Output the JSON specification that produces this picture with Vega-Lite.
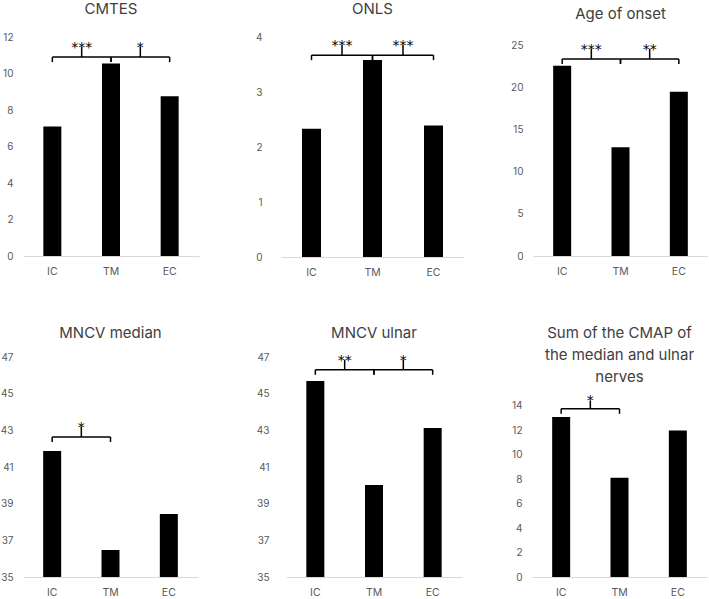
{
  "$schema": "https://vega.github.io/schema/vega-lite/v6.json",
  "padding": {"left": 0, "top": 2, "right": 0, "bottom": 0},
  "background": "white",
  "datasets": {
    "bars": [
      {"panel": "CMTES", "group": "IC", "value": 7.1},
      {"panel": "CMTES", "group": "TM", "value": 10.55},
      {"panel": "CMTES", "group": "EC", "value": 8.75},
      {"panel": "ONLS", "group": "IC", "value": 2.33},
      {"panel": "ONLS", "group": "TM", "value": 3.58},
      {"panel": "ONLS", "group": "EC", "value": 2.39},
      {"panel": "Age", "group": "IC", "value": 22.6},
      {"panel": "Age", "group": "TM", "value": 12.9},
      {"panel": "Age", "group": "EC", "value": 19.5},
      {"panel": "Median", "group": "IC", "value": 41.87},
      {"panel": "Median", "group": "TM", "value": 36.47},
      {"panel": "Median", "group": "EC", "value": 38.44},
      {"panel": "Ulnar", "group": "IC", "value": 45.69},
      {"panel": "Ulnar", "group": "TM", "value": 40.02},
      {"panel": "Ulnar", "group": "EC", "value": 43.13},
      {"panel": "CMAP", "group": "IC", "value": 13.1},
      {"panel": "CMAP", "group": "TM", "value": 8.13},
      {"panel": "CMAP", "group": "EC", "value": 11.99}
    ],
    "brackets": [
      {"panel": "CMTES", "c1": "IC", "c2": "TM", "level": 10.9, "stars": "***"},
      {"panel": "CMTES", "c1": "TM", "c2": "EC", "level": 10.9, "stars": "*"},
      {"panel": "ONLS", "c1": "IC", "c2": "TM", "level": 3.67, "stars": "***"},
      {"panel": "ONLS", "c1": "TM", "c2": "EC", "level": 3.67, "stars": "***"},
      {"panel": "Age", "c1": "IC", "c2": "TM", "level": 23.4, "stars": "***"},
      {"panel": "Age", "c1": "TM", "c2": "EC", "level": 23.4, "stars": "**"},
      {"panel": "Median", "c1": "IC", "c2": "TM", "level": 42.64, "stars": "*"},
      {"panel": "Ulnar", "c1": "IC", "c2": "TM", "level": 46.3, "stars": "**"},
      {"panel": "Ulnar", "c1": "TM", "c2": "EC", "level": 46.3, "stars": "*"},
      {"panel": "CMAP", "c1": "IC", "c2": "TM", "level": 13.76, "stars": "*"}
    ]
  },
  "spacing": 48,
  "vconcat": [
    {
      "concat": [
        {
          "concat": [
            {
              "title": "CMTES",
              "width": 176, "height": 219,
              "layer": [
                {"data": {"name": "bars"}, "transform": [{"filter": "datum.panel === 'CMTES'"}],
                 "mark": {"type": "bar", "width": 18, "color": "#000000"},
                 "encoding": {
                   "x": {"field": "group", "type": "nominal", "scale": {"domain": ["IC", "TM", "EC"], "paddingInner": 0, "paddingOuter": 0}},
                   "y": {"field": "value", "type": "quantitative", "scale": {"domain": [0, 12]}, "axis": {"values": [0, 2, 4, 6, 8, 10, 12], "tickCount": 20, "format": "d"}}
                 }},
                {"data": {"name": "brackets"}, "transform": [{"filter": "datum.panel === 'CMTES'"}],
                 "mark": {"type": "rule", "color": "#000000", "strokeWidth": 1.5},
                 "encoding": {"x": {"field": "c1", "type": "nominal"}, "x2": {"field": "c2"}, "y": {"field": "level", "type": "quantitative"}}},
                {"data": {"name": "brackets"}, "transform": [{"filter": "datum.panel === 'CMTES'"}],
                 "mark": {"type": "rule", "color": "#000000", "strokeWidth": 1.5, "y2Offset": 5},
                 "encoding": {"x": {"field": "c1", "type": "nominal"}, "y": {"field": "level", "type": "quantitative"}, "y2": {"field": "level"}}},
                {"data": {"name": "brackets"}, "transform": [{"filter": "datum.panel === 'CMTES'"}],
                 "mark": {"type": "rule", "color": "#000000", "strokeWidth": 1.5, "y2Offset": 5},
                 "encoding": {"x": {"field": "c2", "type": "nominal"}, "y": {"field": "level", "type": "quantitative"}, "y2": {"field": "level"}}},
                {"data": {"name": "brackets"}, "transform": [{"filter": "datum.panel === 'CMTES'"}],
                 "mark": {"type": "rule", "color": "#000000", "strokeWidth": 1.5, "y2Offset": -10},
                 "encoding": {"x": {"field": "c1", "type": "nominal", "bandPosition": 1}, "y": {"field": "level", "type": "quantitative"}, "y2": {"field": "level"}}},
                {"data": {"name": "brackets"}, "transform": [{"filter": "datum.panel === 'CMTES'"}],
                 "mark": {"type": "text", "color": "#000000", "font": "DejaVu Sans", "fontSize": 14, "dy": -9, "baseline": "middle"},
                 "encoding": {"x": {"field": "c1", "type": "nominal", "bandPosition": 1}, "y": {"field": "level", "type": "quantitative"}, "text": {"field": "stars"}}}
              ]
            },
            {
              "title": "ONLS",
              "width": 183, "height": 220,
              "layer": [
                {"data": {"name": "bars"}, "transform": [{"filter": "datum.panel === 'ONLS'"}],
                 "mark": {"type": "bar", "width": 19, "color": "#000000"},
                 "encoding": {
                   "x": {"field": "group", "type": "nominal", "scale": {"domain": ["IC", "TM", "EC"], "paddingInner": 0, "paddingOuter": 0}},
                   "y": {"field": "value", "type": "quantitative", "scale": {"domain": [0, 4]}, "axis": {"values": [0, 1, 2, 3, 4], "tickCount": 20, "format": "d", "labelPadding": 19}}
                 }},
                {"data": {"name": "brackets"}, "transform": [{"filter": "datum.panel === 'ONLS'"}],
                 "mark": {"type": "rule", "color": "#000000", "strokeWidth": 1.5},
                 "encoding": {"x": {"field": "c1", "type": "nominal"}, "x2": {"field": "c2"}, "y": {"field": "level", "type": "quantitative"}}},
                {"data": {"name": "brackets"}, "transform": [{"filter": "datum.panel === 'ONLS'"}],
                 "mark": {"type": "rule", "color": "#000000", "strokeWidth": 1.5, "y2Offset": 5},
                 "encoding": {"x": {"field": "c1", "type": "nominal"}, "y": {"field": "level", "type": "quantitative"}, "y2": {"field": "level"}}},
                {"data": {"name": "brackets"}, "transform": [{"filter": "datum.panel === 'ONLS'"}],
                 "mark": {"type": "rule", "color": "#000000", "strokeWidth": 1.5, "y2Offset": 5},
                 "encoding": {"x": {"field": "c2", "type": "nominal"}, "y": {"field": "level", "type": "quantitative"}, "y2": {"field": "level"}}},
                {"data": {"name": "brackets"}, "transform": [{"filter": "datum.panel === 'ONLS'"}],
                 "mark": {"type": "rule", "color": "#000000", "strokeWidth": 1.5, "y2Offset": -10},
                 "encoding": {"x": {"field": "c1", "type": "nominal", "bandPosition": 1}, "y": {"field": "level", "type": "quantitative"}, "y2": {"field": "level"}}},
                {"data": {"name": "brackets"}, "transform": [{"filter": "datum.panel === 'ONLS'"}],
                 "mark": {"type": "text", "color": "#000000", "font": "DejaVu Sans", "fontSize": 14, "dy": -9, "baseline": "middle"},
                 "encoding": {"x": {"field": "c1", "type": "nominal", "bandPosition": 1}, "y": {"field": "level", "type": "quantitative"}, "text": {"field": "stars"}}}
              ]
            }
          ],
          "columns": 2, "spacing": 56
        },
        {
          "title": "Age of onset",
          "width": 175, "height": 219,
          "layer": [
            {"data": {"name": "bars"}, "transform": [{"filter": "datum.panel === 'Age'"}],
             "mark": {"type": "bar", "width": 18, "color": "#000000"},
             "encoding": {
               "x": {"field": "group", "type": "nominal", "scale": {"domain": ["IC", "TM", "EC"], "paddingInner": 0, "paddingOuter": 0}},
               "y": {"field": "value", "type": "quantitative", "scale": {"domain": [0, 25]}, "axis": {"values": [0, 5, 10, 15, 20, 25], "tickCount": 20, "format": "d"}}
             }},
            {"data": {"name": "brackets"}, "transform": [{"filter": "datum.panel === 'Age'"}],
             "mark": {"type": "rule", "color": "#000000", "strokeWidth": 1.5},
             "encoding": {"x": {"field": "c1", "type": "nominal"}, "x2": {"field": "c2"}, "y": {"field": "level", "type": "quantitative"}}},
            {"data": {"name": "brackets"}, "transform": [{"filter": "datum.panel === 'Age'"}],
             "mark": {"type": "rule", "color": "#000000", "strokeWidth": 1.5, "y2Offset": 5},
             "encoding": {"x": {"field": "c1", "type": "nominal"}, "y": {"field": "level", "type": "quantitative"}, "y2": {"field": "level"}}},
            {"data": {"name": "brackets"}, "transform": [{"filter": "datum.panel === 'Age'"}],
             "mark": {"type": "rule", "color": "#000000", "strokeWidth": 1.5, "y2Offset": 5},
             "encoding": {"x": {"field": "c2", "type": "nominal"}, "y": {"field": "level", "type": "quantitative"}, "y2": {"field": "level"}}},
            {"data": {"name": "brackets"}, "transform": [{"filter": "datum.panel === 'Age'"}],
             "mark": {"type": "rule", "color": "#000000", "strokeWidth": 1.5, "y2Offset": -10},
             "encoding": {"x": {"field": "c1", "type": "nominal", "bandPosition": 1}, "y": {"field": "level", "type": "quantitative"}, "y2": {"field": "level"}}},
            {"data": {"name": "brackets"}, "transform": [{"filter": "datum.panel === 'Age'"}],
             "mark": {"type": "text", "color": "#000000", "font": "DejaVu Sans", "fontSize": 14, "dy": -9, "baseline": "middle"},
             "encoding": {"x": {"field": "c1", "type": "nominal", "bandPosition": 1}, "y": {"field": "level", "type": "quantitative"}, "text": {"field": "stars"}}}
          ]
        }
      ],
      "columns": 2, "spacing": 46
    },
    {
      "concat": [
        {
          "concat": [
            {
              "title": {"text": "MNCV median", "offset": 11},
              "width": 175, "height": 220,
              "layer": [
                {"data": {"name": "bars"}, "transform": [{"filter": "datum.panel === 'Median'"}],
                 "mark": {"type": "bar", "width": 18, "color": "#000000", "clip": true},
                 "encoding": {
                   "x": {"field": "group", "type": "nominal", "scale": {"domain": ["IC", "TM", "EC"], "paddingInner": 0, "paddingOuter": 0}},
                   "y": {"field": "value", "type": "quantitative", "scale": {"domain": [35, 47], "zero": false}, "axis": {"values": [35, 37, 39, 41, 43, 45, 47], "tickCount": 20, "format": "d"}}
                 }},
                {"data": {"name": "brackets"}, "transform": [{"filter": "datum.panel === 'Median'"}],
                 "mark": {"type": "rule", "color": "#000000", "strokeWidth": 1.5},
                 "encoding": {"x": {"field": "c1", "type": "nominal"}, "x2": {"field": "c2"}, "y": {"field": "level", "type": "quantitative"}}},
                {"data": {"name": "brackets"}, "transform": [{"filter": "datum.panel === 'Median'"}],
                 "mark": {"type": "rule", "color": "#000000", "strokeWidth": 1.5, "y2Offset": 5},
                 "encoding": {"x": {"field": "c1", "type": "nominal"}, "y": {"field": "level", "type": "quantitative"}, "y2": {"field": "level"}}},
                {"data": {"name": "brackets"}, "transform": [{"filter": "datum.panel === 'Median'"}],
                 "mark": {"type": "rule", "color": "#000000", "strokeWidth": 1.5, "y2Offset": 5},
                 "encoding": {"x": {"field": "c2", "type": "nominal"}, "y": {"field": "level", "type": "quantitative"}, "y2": {"field": "level"}}},
                {"data": {"name": "brackets"}, "transform": [{"filter": "datum.panel === 'Median'"}],
                 "mark": {"type": "rule", "color": "#000000", "strokeWidth": 1.5, "y2Offset": -10},
                 "encoding": {"x": {"field": "c1", "type": "nominal", "bandPosition": 1}, "y": {"field": "level", "type": "quantitative"}, "y2": {"field": "level"}}},
                {"data": {"name": "brackets"}, "transform": [{"filter": "datum.panel === 'Median'"}],
                 "mark": {"type": "text", "color": "#000000", "font": "DejaVu Sans", "fontSize": 14, "dy": -9, "baseline": "middle"},
                 "encoding": {"x": {"field": "c1", "type": "nominal", "bandPosition": 1}, "y": {"field": "level", "type": "quantitative"}, "text": {"field": "stars"}}}
              ]
            },
            {
              "title": {"text": "MNCV ulnar", "offset": 11},
              "width": 176, "height": 220,
              "layer": [
                {"data": {"name": "bars"}, "transform": [{"filter": "datum.panel === 'Ulnar'"}],
                 "mark": {"type": "bar", "width": 18, "color": "#000000", "clip": true},
                 "encoding": {
                   "x": {"field": "group", "type": "nominal", "scale": {"domain": ["IC", "TM", "EC"], "paddingInner": 0, "paddingOuter": 0}},
                   "y": {"field": "value", "type": "quantitative", "scale": {"domain": [35, 47], "zero": false}, "axis": {"values": [35, 37, 39, 41, 43, 45, 47], "tickCount": 20, "format": "d", "labelPadding": 17}}
                 }},
                {"data": {"name": "brackets"}, "transform": [{"filter": "datum.panel === 'Ulnar'"}],
                 "mark": {"type": "rule", "color": "#000000", "strokeWidth": 1.5},
                 "encoding": {"x": {"field": "c1", "type": "nominal"}, "x2": {"field": "c2"}, "y": {"field": "level", "type": "quantitative"}}},
                {"data": {"name": "brackets"}, "transform": [{"filter": "datum.panel === 'Ulnar'"}],
                 "mark": {"type": "rule", "color": "#000000", "strokeWidth": 1.5, "y2Offset": 5},
                 "encoding": {"x": {"field": "c1", "type": "nominal"}, "y": {"field": "level", "type": "quantitative"}, "y2": {"field": "level"}}},
                {"data": {"name": "brackets"}, "transform": [{"filter": "datum.panel === 'Ulnar'"}],
                 "mark": {"type": "rule", "color": "#000000", "strokeWidth": 1.5, "y2Offset": 5},
                 "encoding": {"x": {"field": "c2", "type": "nominal"}, "y": {"field": "level", "type": "quantitative"}, "y2": {"field": "level"}}},
                {"data": {"name": "brackets"}, "transform": [{"filter": "datum.panel === 'Ulnar'"}],
                 "mark": {"type": "rule", "color": "#000000", "strokeWidth": 1.5, "y2Offset": -10},
                 "encoding": {"x": {"field": "c1", "type": "nominal", "bandPosition": 1}, "y": {"field": "level", "type": "quantitative"}, "y2": {"field": "level"}}},
                {"data": {"name": "brackets"}, "transform": [{"filter": "datum.panel === 'Ulnar'"}],
                 "mark": {"type": "text", "color": "#000000", "font": "DejaVu Sans", "fontSize": 14, "dy": -9, "baseline": "middle"},
                 "encoding": {"x": {"field": "c1", "type": "nominal", "bandPosition": 1}, "y": {"field": "level", "type": "quantitative"}, "text": {"field": "stars"}}}
              ]
            }
          ],
          "columns": 2, "spacing": 58
        },
        {
          "title": {"text": ["Sum of the CMAP of", "the median and ulnar", "nerves"], "lineHeight": 22, "offset": -28},
          "width": 175, "height": 220,
          "layer": [
            {"data": {"name": "bars"}, "transform": [{"filter": "datum.panel === 'CMAP'"}],
             "mark": {"type": "bar", "width": 18, "color": "#000000"},
             "encoding": {
               "x": {"field": "group", "type": "nominal", "scale": {"domain": ["IC", "TM", "EC"], "paddingInner": 0, "paddingOuter": 0}},
               "y": {"field": "value", "type": "quantitative", "scale": {"domain": [0, 17.7]}, "axis": {"values": [0, 2, 4, 6, 8, 10, 12, 14], "tickCount": 20, "format": "d"}}
             }},
            {"data": {"name": "brackets"}, "transform": [{"filter": "datum.panel === 'CMAP'"}],
             "mark": {"type": "rule", "color": "#000000", "strokeWidth": 1.5},
             "encoding": {"x": {"field": "c1", "type": "nominal"}, "x2": {"field": "c2"}, "y": {"field": "level", "type": "quantitative"}}},
            {"data": {"name": "brackets"}, "transform": [{"filter": "datum.panel === 'CMAP'"}],
             "mark": {"type": "rule", "color": "#000000", "strokeWidth": 1.5, "y2Offset": 5},
             "encoding": {"x": {"field": "c1", "type": "nominal"}, "y": {"field": "level", "type": "quantitative"}, "y2": {"field": "level"}}},
            {"data": {"name": "brackets"}, "transform": [{"filter": "datum.panel === 'CMAP'"}],
             "mark": {"type": "rule", "color": "#000000", "strokeWidth": 1.5, "y2Offset": 5},
             "encoding": {"x": {"field": "c2", "type": "nominal"}, "y": {"field": "level", "type": "quantitative"}, "y2": {"field": "level"}}},
            {"data": {"name": "brackets"}, "transform": [{"filter": "datum.panel === 'CMAP'"}],
             "mark": {"type": "rule", "color": "#000000", "strokeWidth": 1.5, "y2Offset": -8},
             "encoding": {"x": {"field": "c1", "type": "nominal", "bandPosition": 1}, "y": {"field": "level", "type": "quantitative"}, "y2": {"field": "level"}}},
            {"data": {"name": "brackets"}, "transform": [{"filter": "datum.panel === 'CMAP'"}],
             "mark": {"type": "text", "color": "#000000", "font": "DejaVu Sans", "fontSize": 14, "dy": -8, "baseline": "middle"},
             "encoding": {"x": {"field": "c1", "type": "nominal", "bandPosition": 1}, "y": {"field": "level", "type": "quantitative"}, "text": {"field": "stars"}}}
          ]
        }
      ],
      "columns": 2, "spacing": 49
    }
  ],
  "config": {
    "view": {"stroke": null},
    "font": "Inter",
    "title": {"font": "Inter", "fontSize": 15, "fontWeight": "normal", "color": "#404040", "offset": 15},
    "axis": {"labelFont": "Inter", "labelFontSize": 10, "labelColor": "#595959", "ticks": false, "grid": false, "domain": false, "title": null, "labelOverlap": false},
    "axisX": {"domain": true, "domainColor": "#d9d9d9", "domainWidth": 1, "labelPadding": 10, "labelAngle": 0, "labelFontSize": 10.5},
    "axisY": {"labelPadding": 10}
  }
}
